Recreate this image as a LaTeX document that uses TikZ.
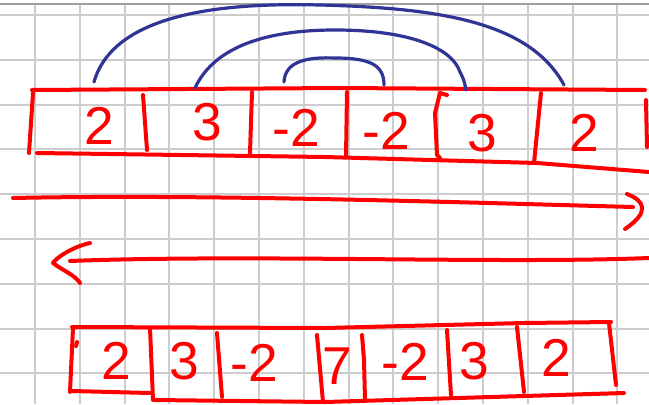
\documentclass[tikz,border=0pt]{standalone}
\usepackage{fontspec}
\setmainfont{Liberation Sans}
\definecolor{penred}{RGB}{255,0,0}
\definecolor{penblue}{RGB}{48,52,148}
\definecolor{gridgray}{RGB}{205,205,205}

\begin{document}
\begin{tikzpicture}[x=0.75pt, y=-0.75pt,
  gridline/.style={gridgray, line width=1.5pt},
  redink/.style={penred, line width=3pt, line cap=round, line join=round},
  blueink/.style={penblue, line width=2.4pt, line cap=round},
  digit/.style={penred, inner sep=0pt, font=\fontsize{40}{40}\selectfont}]
  \useasboundingbox (0,0) rectangle (649,404);

  % Grid paper
  \begin{scope}
    \clip (0,0) rectangle (649,404);
    \foreach \i in {0,...,14}
      \draw[gridline] ({35+44.8*\i},4) -- ({35+44.8*\i},404);
    \foreach \j in {0,...,8}
      \draw[gridline] (0,{15+44.8*\j}) -- (649,{15+44.8*\j});
    \draw[gray!75, line width=1.5pt] (0,4) -- (649,4);
  \end{scope}

  % Top array
  \draw[redink] (32,90) -- (340,88) -- (645,90);
  \draw[redink] (33,93) -- (29,153);
  \draw[redink] (37,153) -- (325,157) -- (537,163) -- (649,172);
  \draw[redink] (143,95) -- (147,150);
  \draw[redink] (252,92) -- (250,153);
  \draw[redink] (347,92) -- (346,157);
  \draw[redink] (447,95) -- (440,93) -- (435,113) -- (437,155) -- (440,158);
  \draw[redink] (541,93) -- (534,163);
  \draw[redink] (646,100) -- (647,147);

  \node[digit] (t1) at (99,126) {2};
  \node[digit] (t2) at (207,122) {3};
  \node[digit] (t3) at (296,128) {-2};
  \node[digit] (t4) at (386,131) {-2};
  \node[digit] (t5) at (482,133) {3};
  \node[digit] (t6) at (584,133) {2};

  % Pairs
  \coordinate (t1a) at (94,82);
  \coordinate (t6a) at (564,85);
  \coordinate (t2a) at (195,88);
  \coordinate (t5a) at (466,90);
  \coordinate (t3a) at (284,82);
  \coordinate (t4a) at (384,85);
  \draw[blueink] (t1a) .. controls (115,8) and (240,3) .. (320,5)
    .. controls (440,8) and (530,22) .. (t6a);
  \draw[blueink] (t2a) .. controls (215,45) and (270,30) .. (335,30)
    .. controls (410,30) and (452,48) .. (460,72) .. controls (464,80) .. (t5a);
  \draw[blueink] (t3a) .. controls (285,60) and (310,57) .. (335,58)
    .. controls (370,58) and (384,65) .. (t4a);

  % Sweeps
  \coordinate (r0) at (13,198);
  \coordinate (r1) at (633,207);
  \draw[redink] (r0) .. controls (200,194) and (450,202) .. (r1);
  \draw[redink] (627,194) .. controls (645,201) and (650,212) .. (625,229);
  \coordinate (l0) at (649,258);
  \coordinate (l1) at (70,261);
  \draw[redink] (l0) .. controls (500,264) and (250,254) .. (l1);
  \draw[redink] (90,243) .. controls (72,247) and (56,258) .. (53,263)
    .. controls (62,270) and (75,275) .. (80,283);

  % Bottom array
  \draw[redink] (72,327) -- (325,328) -- (524,323) -- (611,322);
  \draw[redink] (73,328) -- (70,392);
  \draw[redink] (72,391) -- (150,393);
  \draw[redink] (155,400) -- (325,402) -- (624,393);
  \draw[redink] (150,328) -- (153,400);
  \draw[redink] (217,333) -- (222,397);
  \draw[redink] (317,335) -- (323,402);
  \draw[redink] (362,335) -- (364,360) -- (365,400);
  \draw[redink] (447,330) -- (451,395);
  \draw[redink] (517,327) -- (524,392);
  \draw[redink] (609,323) -- (616,385);
  \draw[redink] (77,342) -- (76,346);

  \node[digit] (b1) at (116,361) {2};
  \node[digit] (b2) at (184,361) {3};
  \node[digit] (b3) at (254,363) {-2};
  \node[digit] (b4) at (337,366) {7};
  \node[digit] (b5) at (405,362) {-2};
  \node[digit] (b6) at (474,361) {3};
  \node[digit] (b7) at (556,358) {2};
\end{tikzpicture}
\end{document}
